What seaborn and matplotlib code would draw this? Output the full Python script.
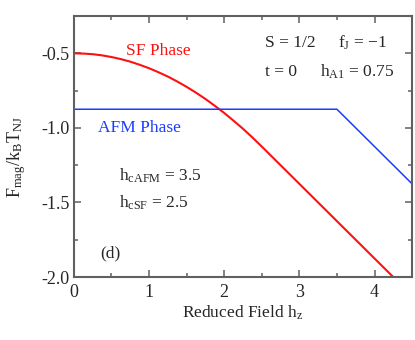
import numpy as np
import pandas as pd
import matplotlib
matplotlib.use('Agg')
import matplotlib.pyplot as plt
import seaborn as sns

# --------------------------------------------------
# Data
# --------------------------------------------------
h_sf = [0.0, 0.125, 0.25, 0.375, 0.5, 0.625, 0.75, 0.875, 1.0, 1.125, 1.25, 1.375,
        1.5, 1.625, 1.75, 1.875, 2.0, 2.125, 2.25, 2.375, 2.5, 3.0, 3.5, 4.0, 4.5]
f_sf = [-0.500, -0.502, -0.506, -0.514, -0.525, -0.539, -0.556, -0.577, -0.600,
        -0.627, -0.656, -0.689, -0.725, -0.764, -0.806, -0.852, -0.900, -0.952,
        -1.006, -1.064, -1.125, -1.375, -1.625, -1.875, -2.125]

h_afm = [0.0, 1.0, 2.0, 3.0, 3.5, 4.0, 4.5]
f_afm = [-0.875, -0.875, -0.875, -0.875, -0.875, -1.125, -1.375]

sf_df = pd.DataFrame({'h': h_sf, 'F': f_sf})
afm_df = pd.DataFrame({'h': h_afm, 'F': f_afm})

# --------------------------------------------------
# Style
# --------------------------------------------------
sns.set_style('ticks')
plt.rcParams['font.family'] = ['Liberation Serif', 'DejaVu Serif']
plt.rcParams['mathtext.fontset'] = 'custom'
plt.rcParams['mathtext.rm'] = 'Liberation Serif'
plt.rcParams['mathtext.it'] = 'Liberation Serif'

fig, ax = plt.subplots(figsize=(4.15, 3.4), dpi=100)
fig.subplots_adjust(left=0.178, right=0.993, top=0.953, bottom=0.185)

sns.lineplot(data=sf_df, x='h', y='F', color='#ff1010', linewidth=1.5, ax=ax)
sns.lineplot(data=afm_df, x='h', y='F', color='#1a3cff', linewidth=1.1, ax=ax)

ax.set_xlim(0, 4.5)
ax.set_ylim(-2.0, -0.25)
ax.set_xticks([0, 1, 2, 3, 4])
ax.set_xticks(np.arange(0.5, 4.5, 1.0), minor=True)
ax.set_yticks([-2.0, -1.5, -1.0, -0.5])
ax.set_yticks([-1.75, -1.25, -0.75], minor=True)
ax.set_yticklabels(['-2.0', '-1.5', '-1.0', '-0.5'])

for side in ['top', 'right', 'bottom', 'left']:
    ax.spines[side].set_visible(True)
    ax.spines[side].set_color('#606060')
    ax.spines[side].set_linewidth(1.5)
ax.tick_params(which='both', direction='in', top=True, right=True, color='#606060',
               labelsize=13)
ax.tick_params(which='major', length=5, width=1.1)
ax.tick_params(which='minor', length=3, width=1.1)
ax.tick_params(axis='x', pad=5)
ax.tick_params(axis='y', pad=3)

ax.set_xlabel(r'Reduced Field h$_\mathregular{z}$', fontsize=12.5, labelpad=2)
ax.set_ylabel(r'F$_\mathregular{mag}$/k$_\mathregular{B}$T$_\mathregular{NJ}$', fontsize=13)
ax.yaxis.set_label_coords(-0.135, 0.46)

fs = 12.5
ax.text(0.70, -0.513, 'SF Phase', color='#ff1010', fontsize=fs)
ax.text(0.32, -1.027, 'AFM Phase', color='#1a3cff', fontsize=fs)
ax.text(2.54, -0.46, 'S = 1/2', fontsize=fs)
ax.text(3.51, -0.46, r'f$_\mathregular{J}$ = $-$1', fontsize=fs)
ax.text(2.54, -0.653, 't = 0', fontsize=fs)
ax.text(3.27, -0.653, r'h$_\mathregular{A1}$ = 0.75', fontsize=fs)
ax.text(0.60, -1.353, r'h$_\mathregular{cAFM}$ = 3.5', fontsize=fs)
ax.text(0.60, -1.533, r'h$_\mathregular{cSF}$ = 2.5', fontsize=fs)
ax.text(0.345, -1.867, '(d)', fontsize=fs)

fig.savefig('out.png', dpi=100)
